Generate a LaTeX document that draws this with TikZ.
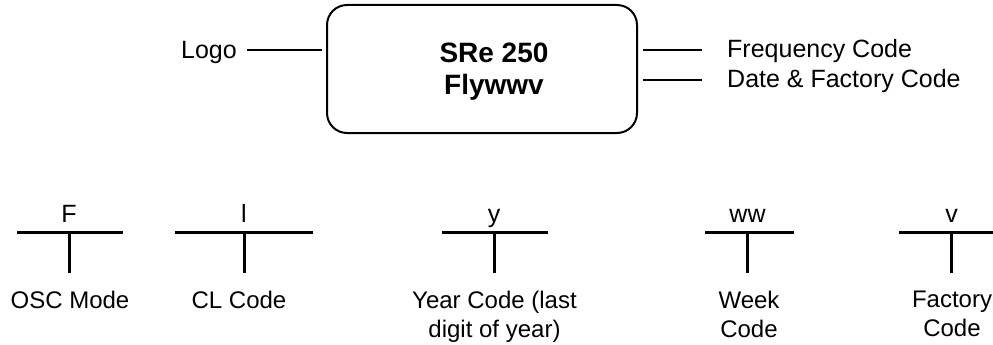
\documentclass[tikz,border=0pt]{standalone}
\usepackage{fontspec}
\setmainfont{Liberation Sans}
\usetikzlibrary{calc}
\begin{document}
\begin{tikzpicture}[x=1pt,y=-1pt,
  lab/.style={inner sep=0pt, font=\fontsize{25}{30}\selectfont},
  sub/.style={inner sep=0pt, align=center, font=\fontsize{24}{29}\selectfont, anchor=north},
  letter/.style={inner sep=0pt, font=\fontsize{25}{30}\selectfont, anchor=base},
  chip/.style={inner sep=0pt, font=\bfseries\fontsize{28}{34}\selectfont, anchor=base},
  conn/.style={line width=1.6pt},
  bar/.style={line width=3pt},
  stem/.style={line width=3pt, shorten >=17.5pt},
  ]
\useasboundingbox (0,0) rectangle (993,345);

% chip marking box
\node[draw, line width=2pt, rounded corners=20pt, minimum width=310pt, minimum height=128pt, inner sep=0pt] (box) at (482,69) {};
\node[chip] (t1) at (494,63) {SRe 250};
\node[chip] (t2) at (494,94) {Flywwv};

% side labels
\node[lab, anchor=base east] (logo) at (237,59) {Logo};
\node[lab, anchor=base west] (freq) at (727,57.5) {Frequency Code};
\node[lab, anchor=base west] (date) at (727,87.5) {Date \& Factory Code};

\draw[conn] ($(logo.base east)+(10,-9)$) -- ($(logo.base east -| box.west)+(-4,-9)$);
\draw[conn] ($(freq.base west -| box.east)+(5,-7.5)$) -- ($(freq.base west)+(-25,-7.5)$);
\draw[conn] ($(date.base west -| box.east)+(5,-7.5)$) -- ($(date.base west)+(-25,-7.5)$);

% code breakdown
\node[letter] (lF) at (69,222) {F};
\node[letter] (lL) at (244,222) {l};
\node[letter] (lY) at (494,222) {y};
\node[letter] (lW) at (747.5,222) {ww};
\node[letter] (lV) at (951.5,222) {v};

\coordinate (tF) at (69,232);
\coordinate (tL) at (244,232);
\coordinate (tY) at (494,232);
\coordinate (tW) at (747.5,232);
\coordinate (tV) at (951.5,232);

\node[sub] (sF) at (70,290.5) {OSC Mode};
\node[sub] (sL) at (239,290.5) {CL Code};
\node[sub] (sY) at (494.5,290.5) {Year Code (last\\digit of year)};
\node[sub] (sW) at (749,290.5) {Week\\Code};
\node[sub] (sV) at (952,290.5) {Factory\\Code};

\draw[bar] ($(tF)+(-52,0)$) -- ($(tF)+(54,0)$);
\draw[bar] ($(tL)+(-69,0)$) -- ($(tL)+(69,0)$);
\draw[bar] ($(tY)+(-52,0)$) -- ($(tY)+(54,0)$);
\draw[bar] ($(tW)+(-42.5,0)$) -- ($(tW)+(46.5,0)$);
\draw[bar] ($(tV)+(-52.5,0)$) -- ($(tV)+(42,0)$);

\draw[stem] (tF) -- (tF |- sF.north);
\draw[stem] (tL) -- (tL |- sL.north);
\draw[stem] (tY) -- (tY |- sY.north);
\draw[stem] (tW) -- (tW |- sW.north);
\draw[stem] (tV) -- (tV |- sV.north);
\end{tikzpicture}
\end{document}
